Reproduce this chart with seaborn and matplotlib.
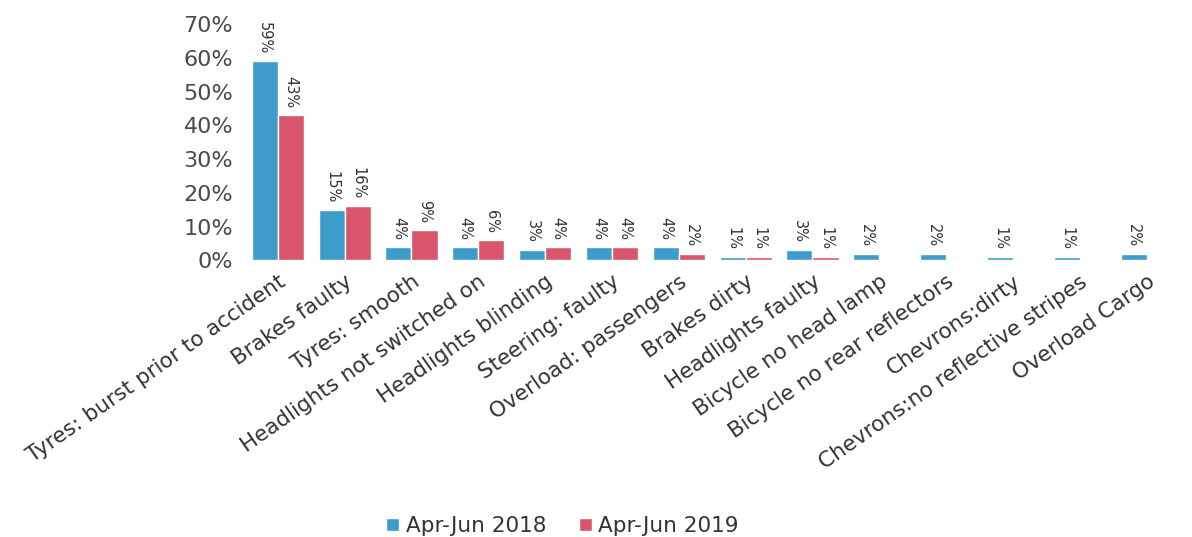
import matplotlib
matplotlib.use("Agg")
import matplotlib.pyplot as plt
import seaborn as sns
import pandas as pd
import numpy as np

categories = ["Tyres: burst prior to accident", "Brakes faulty", "Tyres: smooth",
              "Headlights not switched on", "Headlights blinding", "Steering: faulty",
              "Overload: passengers", "Brakes dirty", "Headlights faulty",
              "Bicycle no head lamp", "Bicycle no rear reflectors", "Chevrons:dirty",
              "Chevrons:no reflective stripes", "Overload Cargo"]
y2018 = [59, 15, 4, 4, 3, 4, 4, 1, 3, 2, 2, 1, 1, 2]
y2019 = [43, 16, 9, 6, 4, 4, 2, 1, 1, np.nan, np.nan, np.nan, np.nan, np.nan]
series = ["Apr-Jun 2018", "Apr-Jun 2019"]

df = pd.DataFrame({
    "cause": categories * 2,
    "share": y2018 + y2019,
    "period": [series[0]] * len(categories) + [series[1]] * len(categories),
}).dropna()

sns.set_style("white")
plt.rcParams["font.family"] = ["DejaVu Sans"]

fig = plt.figure(figsize=(11.92, 5.37), dpi=100)
ax = fig.add_axes([0.205, 0.515, 0.785, 0.44])
sns.barplot(data=df, x="cause", y="share", hue="period", order=categories,
            hue_order=series, palette=["#3d9cc9", "#d9556b"], width=0.78,
            saturation=1, ax=ax)

for c in ax.containers:
    ax.bar_label(c, labels=[f"{v:.0f}%" for v in c.datavalues], rotation=270,
                 padding=5, fontsize=10.5, color="#333333")

ax.set_ylim(0, 70)
ax.set_yticks(range(0, 71, 10))
ax.set_yticklabels([f"{t}%" for t in range(0, 71, 10)], fontsize=16,
                   color="#4a4a4a")
ax.set_xticks(range(len(categories)))
ax.set_xticklabels(categories, rotation=35, ha="right", rotation_mode="anchor",
                   fontsize=15.5, color="#333333")
ax.tick_params(axis="both", length=0, pad=8)
ax.set_xlabel("")
ax.set_ylabel("")
ax.set_xlim(-0.5, len(categories) - 0.5)
sns.despine(ax=ax, left=True, bottom=True)

ax.legend(loc="upper center", bbox_to_anchor=(0.34, -1.0), ncol=2, frameon=False,
          fontsize=15.5, handlelength=0.6, handleheight=0.6, handletextpad=0.3,
          columnspacing=1.5, labelcolor="#333333")

fig.savefig("out.png", dpi=100)
